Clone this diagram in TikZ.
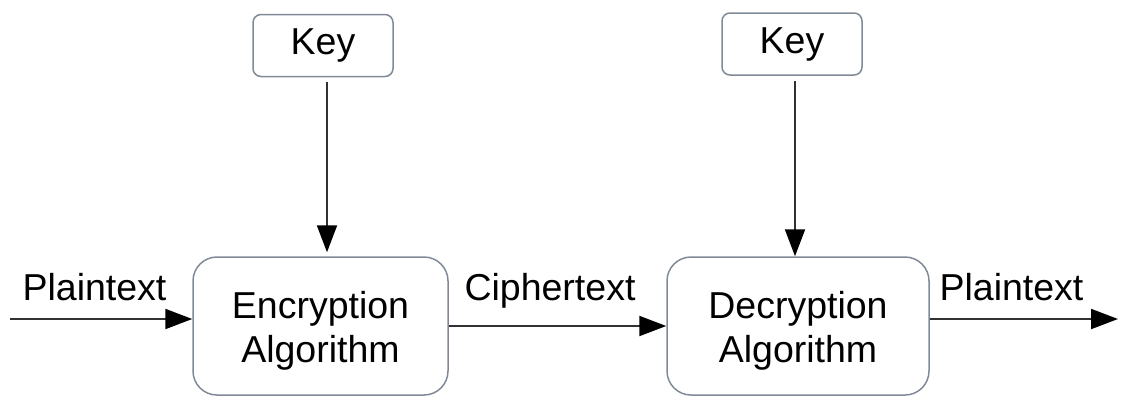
\documentclass[tikz,border=0pt]{standalone}
\usepackage{fontspec}
\setmainfont{Liberation Sans}
\usetikzlibrary{arrows.meta}
\definecolor{boxline}{RGB}{128,138,150}
\definecolor{flowline}{RGB}{50,50,50}
\tikzset{
  keybox/.style={draw=boxline, line width=1.5pt, rounded corners=8pt,
    minimum width=140pt, minimum height=62pt, inner sep=0pt,
    font=\fontsize{37.5}{37.5}\selectfont},
  algbox/.style={draw=boxline, line width=1.5pt, rounded corners=24pt,
    minimum height=138pt, inner sep=0pt},
  algtext/.style={inner sep=0pt, align=center,
    font=\fontsize{37.5}{44}\selectfont},
  flow/.style={draw=flowline, line width=2pt,
    -{Triangle[length=27pt,width=20pt,color=black]}},
  lbl/.style={anchor=base, inner sep=0pt, font=\fontsize{37.5}{37.5}\selectfont}
}
\begin{document}
\begin{tikzpicture}[x=1pt,y=-1pt]
  \useasboundingbox (0,0) rectangle (1122,397);

  % key inputs
  \node[keybox] (key1) at (323,45.5) {Key};
  \node[keybox] (key2) at (792,44) {Key};

  % algorithm blocks and their captions
  \node[algbox, minimum width=255pt] (enc) at (320.5,326) {};
  \node[algbox, minimum width=262pt] (dec) at (798,326) {};
  \node[algtext] (enctext) at ([yshift=-5pt]enc.center) {Encryption\\Algorithm};
  \node[algtext] (dectext) at ([yshift=-5pt]dec.center) {Decryption\\Algorithm};

  % free ends of the outer arrows
  \coordinate (inL) at (10,319);
  \coordinate (outR) at (1118,319);

  % data flow
  \draw[flow] (inL) -- (inL -| enc.west);
  \draw[flow] (enc.east) -- (dec.west);
  \draw[flow] (dec.east |- outR) -- (outR);

  % keys into the algorithms
  \draw[flow, shorten <=5pt, shorten >=4pt] ([xshift=4pt]key1.south) -- ([xshift=4pt]key1.south |- enc.north);
  \draw[flow, shorten <=5pt, shorten >=0pt] ([xshift=3pt]key2.south) -- ([xshift=3pt]key2.south |- dec.north);

  % labels on the arrows
  \node[lbl] (lp1) at (94.5,300) {Plaintext};
  \node[lbl] (lc) at (550,300) {Ciphertext};
  \node[lbl] (lp2) at (1011.5,300) {Plaintext};
\end{tikzpicture}
\end{document}
